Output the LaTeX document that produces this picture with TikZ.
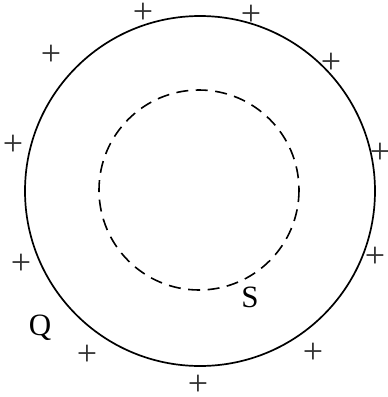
\documentclass[tikz,border=0pt]{standalone}
\usepackage{fontspec}
\setmainfont{Liberation Serif}
\begin{document}
\begin{tikzpicture}[x=1pt,y=-1pt,
  plus/.style={inner sep=0pt, font=\fontsize{36}{36}\selectfont, text=black!80},
  lbl/.style={inner sep=0pt, font=\fontsize{31}{31}\selectfont},
  outer/.style={draw, line width=1.7pt},
  inner/.style={draw, line width=1.6pt, dash pattern=on 12pt off 7.5pt}]
\useasboundingbox (0,0) rectangle (388,397);
\draw[outer] (200,191) circle[radius=175];
\draw[inner] (199,190) circle[radius=100];
\node[plus] (p1) at (143,13) {+};
\node[plus] (p2) at (251,15) {+};
\node[plus] (p3) at (51,55) {+};
\node[plus] (p4) at (331,63) {+};
\node[plus] (p5) at (380,153) {+};
\node[plus] (p6) at (13,145) {+};
\node[plus] (p7) at (375,257) {+};
\node[plus] (p8) at (21,264) {+};
\node[plus] (p9) at (87,355) {+};
\node[plus] (p10) at (313,353) {+};
\node[plus] (p11) at (198,385) {+};
\node[lbl] (Q) at (40,328) {Q};
\node[lbl] (S) at (250,297) {S};
\end{tikzpicture}
\end{document}
